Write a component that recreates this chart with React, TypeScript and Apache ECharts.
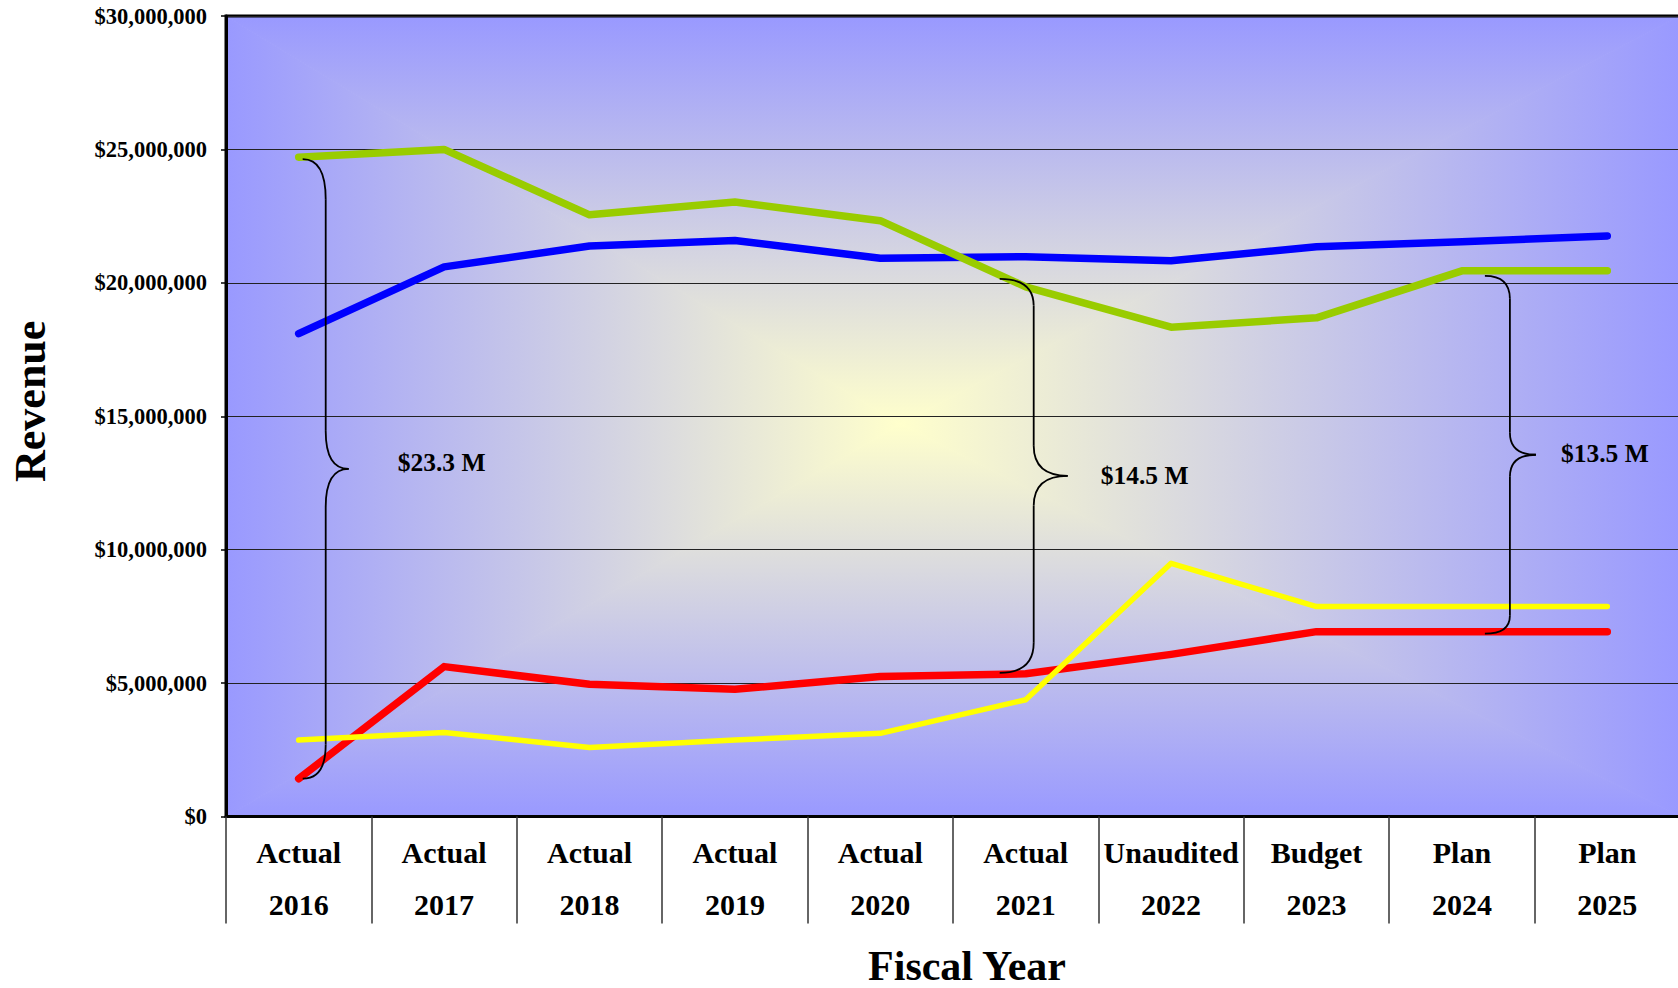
import React, { useEffect, useRef } from "react";
import * as echarts from "echarts";

// ---- data ----
const phases = ["Actual", "Actual", "Actual", "Actual", "Actual", "Actual", "Unaudited", "Budget", "Plan", "Plan"];
const years = ["2016", "2017", "2018", "2019", "2020", "2021", "2022", "2023", "2024", "2025"];

const blueValues = [18100000, 20600000, 21380000, 21590000, 20920000, 20980000, 20830000, 21350000, 21540000, 21760000];
const greenValues = [24710000, 25000000, 22550000, 23030000, 22330000, 19850000, 18340000, 18690000, 20450000, 20450000];
const redValues = [1420000, 5620000, 4960000, 4770000, 5250000, 5350000, 6080000, 6930000, 6930000, 6930000];
const yellowValues = [2870000, 3150000, 2590000, 2870000, 3120000, 4380000, 9490000, 7870000, 7870000, 7870000];

const yMin = 0;
const yMax = 30000000;
const yInterval = 5000000;

// gap annotations: category index, label
const braceCategories = [0, 5, 8];
const braceLabels = ["$23.3 M", "$14.5 M", "$13.5 M"];

// ---- layout / style ----
const FONT = '"Liberation Serif", "Times New Roman", serif';
const GRID = { left: 226, top: 16, width: 1454, height: 800.6 };
const GRAD_CENTER = { x: 900, y: 424 };
const BRACE_LAYOUT = [
  { end: 4, spine: 27, tip: 50, text: 99, textDy: -6, topDy: 2, botDy: 0, rT: 40, rM: 38, rB: 34 },
  { end: -26, spine: 8, tip: 42, text: 75, textDy: 0, topDy: -8, botDy: -1, rT: 27, rM: 30, rB: 30 },
  { end: 23, spine: 48, tip: 74, text: 99, textDy: -1, topDy: 5, botDy: 2, rT: 23, rM: 22, rB: 18 },
];

function fmtMoney(v: number) {
  return "$" + String(Math.round(v)).replace(/\B(?=(\d{3})+(?!\d))/g, ",");
}

export default function App() {
  const ref = useRef<HTMLDivElement>(null);

  useEffect(() => {
    document.body.style.margin = "0";
    document.body.style.overflow = "hidden";
    if (!ref.current) return;
    const chart = echarts.init(ref.current, null, { renderer: "svg", width: 1678, height: 988 });
    const categories = phases.map((p, i) => p + "\n" + years[i]);

    const lineSeries = (name: string, data: number[], color: string, width: number) => ({
      type: "line",
      name,
      data,
      symbol: "none",
      lineStyle: { color, width, cap: "round", join: "round" },
      itemStyle: { color },
      z: 3,
    });

    chart.setOption({
      animation: false,
      backgroundColor: "#ffffff",
      grid: {
        left: GRID.left,
        top: GRID.top,
        width: GRID.width,
        height: GRID.height,
        show: true,
        borderColor: "#000",
        borderWidth: 3,
        backgroundColor: "transparent",
        containLabel: false,
        outerBoundsMode: "none",
      },
      xAxis: {
        type: "category",
        data: categories,
        boundaryGap: true,
        axisLine: { show: true, lineStyle: { color: "#000", width: 3 } },
        axisTick: { show: true, interval: 0, length: 107, lineStyle: { color: "#333", width: 1.5 } },
        axisLabel: {
          interval: 0,
          margin: 10,
          fontFamily: FONT,
          fontWeight: "bold",
          fontSize: 30,
          lineHeight: 52,
          color: "#000",
        },
        splitLine: { show: false },
        name: "Fiscal Year",
        nameLocation: "middle",
        nameGap: 129,
        nameTextStyle: {
          fontFamily: FONT,
          fontWeight: "bold",
          fontSize: 42,
          lineHeight: 40,
          color: "#000",
          padding: [0, 0, 0, 28],
        },
      },
      yAxis: {
        type: "value",
        min: yMin,
        max: yMax,
        interval: yInterval,
        axisLine: { show: true, lineStyle: { color: "#000", width: 3 } },
        axisTick: { show: true, length: 5, lineStyle: { color: "#000", width: 1.5 } },
        axisLabel: {
          margin: 19,
          formatter: (v: number) => fmtMoney(v),
          fontFamily: FONT,
          fontWeight: "bold",
          fontSize: 22.5,
          color: "#000",
        },
        splitLine: { show: true, lineStyle: { color: "#222", width: 1 } },
        name: "Revenue",
        nameLocation: "middle",
        nameGap: 174,
        nameTextStyle: { fontFamily: FONT, fontWeight: "bold", fontSize: 44, color: "#000", padding: [0, 0, 0, 30] },
      },
      series: [
        lineSeries("Blue", blueValues, "#0000FF", 7.5),
        lineSeries("Green", greenValues, "#99CC00", 7.5),
        lineSeries("Red", redValues, "#FF0000", 7.5),
        lineSeries("Yellow", yellowValues, "#FFFF00", 5.5),
      ],
    });

    // background: rectangular "from center" gradient built from four triangles
    const L = GRID.left, T = GRID.top, R = GRID.left + GRID.width, B = GRID.top + GRID.height;
    const cx = GRAD_CENTER.x, cy = GRAD_CENTER.y;
    const stops = [
      { offset: 0, color: "#9999FF" },
      { offset: 1, color: "#FFFFCC" },
    ];
    const grad = (x: number, y: number, x2: number, y2: number) => ({
      type: "linear", x, y, x2, y2, colorStops: stops,
    });
    const tri = (id: string, pts: number[][], g: any) => ({
      type: "polygon",
      id,
      z: -10,
      silent: true,
      shape: { points: pts },
      style: { fill: g, stroke: g, lineWidth: 1 },
    });
    const background = [
      tri("bgTop", [[L, T], [R, T], [cx, cy]], grad(0, 0, 0, 1)),
      tri("bgBottom", [[L, B], [R, B], [cx, cy]], grad(0, 1, 0, 0)),
      tri("bgLeft", [[L, T], [L, B], [cx, cy]], grad(0, 0, 1, 0)),
      tri("bgRight", [[R, T], [R, B], [cx, cy]], grad(1, 0, 0, 0)),
    ];

    // braces
    const braceStyle = { stroke: "#000", lineWidth: 1.8, fill: null };
    const braces: any[] = [];
    braceCategories.forEach((ci, k) => {
      const lay = BRACE_LAYOUT[k];
      const xc = chart.convertToPixel({ xAxisIndex: 0 }, ci) as number;
      const yTop = (chart.convertToPixel({ yAxisIndex: 0 }, greenValues[ci]) as number) + lay.topDy;
      const yBot = (chart.convertToPixel({ yAxisIndex: 0 }, redValues[ci]) as number) + lay.botDy;
      const yMid = (yTop + yBot) / 2;
      const xe = xc + lay.end, xs = xc + lay.spine, xt = xc + lay.tip;
      const parts = [
        { type: "bezierCurve", shape: { x1: xe, y1: yTop, cpx1: xs, cpy1: yTop, x2: xs, y2: yTop + lay.rT } },
        { type: "line", shape: { x1: xs, y1: yTop + lay.rT, x2: xs, y2: yMid - lay.rM } },
        { type: "bezierCurve", shape: { x1: xs, y1: yMid - lay.rM, cpx1: xs, cpy1: yMid, x2: xt, y2: yMid } },
        { type: "bezierCurve", shape: { x1: xt, y1: yMid, cpx1: xs, cpy1: yMid, x2: xs, y2: yMid + lay.rM } },
        { type: "line", shape: { x1: xs, y1: yMid + lay.rM, x2: xs, y2: yBot - lay.rB } },
        { type: "bezierCurve", shape: { x1: xs, y1: yBot - lay.rB, cpx1: xs, cpy1: yBot, x2: xe, y2: yBot } },
      ];
      parts.forEach((p, j) => {
        braces.push({ ...p, id: `brace${k}_${j}`, z: 100, silent: true, style: braceStyle });
      });
      braces.push({
        type: "text",
        id: `braceText${k}`,
        z: 100,
        silent: true,
        x: xc + lay.text,
        y: yMid + lay.textDy,
        style: {
          text: braceLabels[k],
          fill: "#000",
          fontFamily: FONT,
          fontWeight: "bold",
          fontSize: 25.5,
          align: "left",
          verticalAlign: "middle",
        },
      });
    });

    chart.setOption({ graphic: [...background, ...braces] });

    return () => chart.dispose();
  }, []);

  return (
    <div
      ref={ref}
      style={{ position: "fixed", left: 0, top: 0, width: 1678, height: 988 }}
    />
  );
}
